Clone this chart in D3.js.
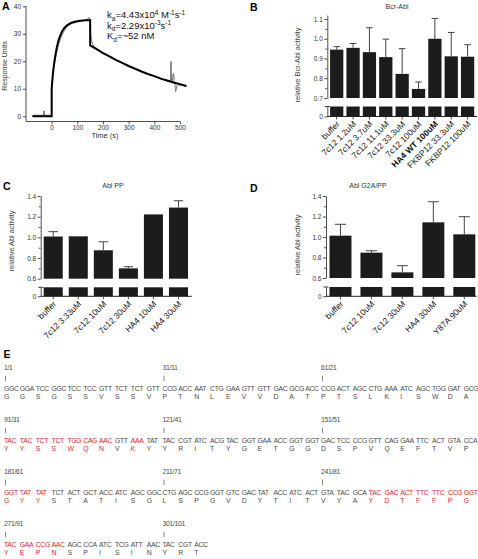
<!DOCTYPE html>
<html><head><meta charset="utf-8">
<script src="https://cdn.jsdelivr.net/npm/d3@7"></script>
<style>
body{margin:0;background:#fff}
svg{display:block}
text{font-family:"Liberation Sans",Arial,sans-serif}
</style>
</head><body>
<svg id="c" width="478" height="559"></svg>
<script>
// ---------- Panel A data (SPR sensorgram) ----------
const fitTime = [-75,-5,0,0,3,6,10,15,20,25,30,40,50,60,70,80,90,100,110,120,130,140,150,150,175,200,225,250,275,300,325,350,375,400,425,450,475,500,525];
const fitRU   = [0,0,0,10,13.5,16.5,19.5,22.5,25,27,28.5,30.8,32.2,33.1,33.7,34.1,34.4,34.6,34.75,34.85,34.9,34.95,35,25.8,24.4,23.0,21.8,20.5,19.4,18.3,17.3,16.3,15.4,14.6,13.7,13.0,12.3,11.7,11.0];
const dataTime = [-75,-40,-32,-30,-28,-5,0,0,5,10,20,30,40,50,60,80,100,120,140,145,148,150,152,155,160,165,170,180,200,250,300,350,400,450,460,463,465,467,470,473,475,478,480,483,486,488,490,493,496,500,510,525];
const dataRU   = [0.3,0.4,0.5,2,0.4,0.4,0,11,15,18.5,23.5,27,29.5,31.3,32.6,33.8,34.3,34.6,35.3,36,35.5,35,30,27.5,26.2,25.5,25,24.4,23.1,20.4,18.2,16.2,14.5,12.8,12.5,13,20,13,12.5,15.5,15.5,12.2,12.0,9,10,11.2,11.5,11.3,11.4,11.3,11.2,10.9];
const aXTicks = [0,100,200,300,400,500];
const aYTicks = [0,10,20,30,40];

// ---------- Panel B data ----------
const bCats = ["buffer","7c12 1.2uM","7c12 3.7uM","7c12 11.1uM","7c12 33.3uM","7c12 100uM","HA4 WT 100uM","FKBP12 33.3uM","FKBP12 100uM"];
const bVals = [0.945,0.954,0.932,0.907,0.822,0.746,1.0,0.911,0.909];
const bErrTop = [0.960,0.976,1.056,0.998,0.950,0.781,1.103,1.032,0.970];
const bTicks = [0.7,0.8,0.9,1.0,1.1];
const bMinor = [0.75,0.85,0.95,1.05];

// ---------- Panel C data ----------
const cCats = ["buffer","7c12 3.33uM","7c12 10uM","7c12 30uM","HA4 10uM","HA4 30uM"];
const cVals = [1.008,1.010,0.875,0.700,1.222,1.288];
const cErrTop = [1.055,null,0.957,0.716,null,1.354];
const cdTicks = [0.6,0.8,1.0,1.2,1.4];
const cdMinor = [0.7,0.9,1.1,1.3];

// ---------- Panel D data ----------
const dCats = ["buffer","7c12 10uM","7c12 30uM","HA4 30uM","Y87A 90uM"];
const dVals = [1.013,0.847,0.655,1.143,1.026];
const dErrTop = [1.124,0.866,0.720,1.344,1.198];

// ---------- Panel E data ----------
const codons = ("GGC GGA TCC GGC TCC TCC GTT TCT TCT GTT CCG ACC AAT CTG GAA GTT GTT GAC GCG ACC CCG ACT AGC CTG AAA ATC AGC TGG GAT GCG " +
 "TAC TAC TCT TCT TGG CAG AAC GTT AAA TAT TAC CGT ATC ACG TAC GGT GAA ACC GGT GGT GAC TCC CCG GTT CAG GAA TTC ACT GTA CCA " +
 "GGT TAT TAT TCT ACT GCT ACC ATC AGC GGC CTG AGC CCG GGT GTC GAC TAT ACC ATC ACT GTA TAC GCA TAC GAC ACT TTC TTC CCG GGT " +
 "TAC GAA CCG AAC AGC CCA ATC TCG ATT AAC TAC CGT ACC").split(" ");
const aminos = ("GGSGSSVSSVPTNLEVVDATPTSLKISWDA" + "YYSSWQNVKYYRITYGETGGDSPVQEFTVP" + "GYYSTATISGLSPGVDYTITVYAYDTFFPG" + "YEPNSPISINYRT").split("");
const redCodons = [30,31,32,33,34,35,36,38,60,61,62,83,84,85,86,87,88,89,90,91,92,93];
const markerLabels = ["1/1","31/11","61/21","91/31","121/41","151/51","181/61","211/71","241/81","271/91","301/101"];

const svg = d3.select("#c");
svg.append("rect").attr("width",478).attr("height",559).attr("fill","#fff");

function styleAxis(g, fs){
  g.selectAll("path,line").attr("stroke","#222").attr("stroke-width",0.8);
  g.selectAll("text").attr("font-size",fs).attr("fill","#333").attr("font-family","Liberation Sans, Arial, sans-serif");
}
function panelLetter(t,x,y){
  svg.append("text").text(t).attr("x",x).attr("y",y).attr("font-size",10.5).attr("font-weight","bold").attr("fill","#000");
}

// ================= Panel A =================
{
  const xA = d3.scaleLinear().domain([-100,500]).range([26,180]);
  const yA = d3.scaleLinear().domain([0,40]).range([116.3,6.3]);
  const axisY = 121.5;
  const gy = svg.append("g").attr("transform","translate(26,0)")
    .call(d3.axisLeft(yA).tickValues(aYTicks).tickSize(3).tickSizeOuter(0).tickPadding(2));
  gy.select(".domain").remove();
  styleAxis(gy,6.5);
  svg.append("line").attr("x1",26).attr("x2",26).attr("y1",yA(40)).attr("y2",axisY).attr("stroke","#222").attr("stroke-width",0.8);
  const gx = svg.append("g").attr("transform",`translate(0,${axisY})`)
    .call(d3.axisBottom(xA).tickValues(aXTicks).tickSize(2.5).tickSizeOuter(0).tickPadding(1));
  styleAxis(gx,6.5);
  gx.select(".domain").attr("d",`M${xA(-100)},0H${xA(500)}`);

  const line = d3.line().x(d=>xA(d[0])).y(d=>yA(d[1]));
  svg.append("path").datum(dataTime.map((t,i)=>[t,dataRU[i]]))
    .attr("d",line).attr("fill","none").attr("stroke","#555").attr("stroke-width",0.8);
  svg.append("path").datum(fitTime.map((t,i)=>[t,fitRU[i]]))
    .attr("d",line).attr("fill","none").attr("stroke","#000").attr("stroke-width",2);

  svg.append("text").text("Response Units").attr("transform","translate(7,66) rotate(-90)")
    .attr("text-anchor","middle").attr("font-size",7).attr("fill","#333");
  svg.append("text").text("Time (s)").attr("x",105).attr("y",137.5)
    .attr("text-anchor","middle").attr("font-size",7.5).attr("fill","#333");

  const ann = svg.append("g").attr("font-size",9.5).attr("fill","#111");
  const l1 = ann.append("text").attr("x",107).attr("y",18);
  l1.append("tspan").text("k");
  l1.append("tspan").text("a").attr("font-size",6.5).attr("dy",2.5);
  l1.append("tspan").text("=4.43x10").attr("dy",-2.5);
  l1.append("tspan").text("4").attr("font-size",6.5).attr("dy",-3.5);
  l1.append("tspan").text(" M").attr("dy",3.5);
  l1.append("tspan").text("-1").attr("font-size",6.5).attr("dy",-3.5);
  l1.append("tspan").text("s").attr("dy",3.5);
  l1.append("tspan").text("-1").attr("font-size",6.5).attr("dy",-3.5);
  const l2 = ann.append("text").attr("x",107).attr("y",28.5);
  l2.append("tspan").text("k");
  l2.append("tspan").text("d").attr("font-size",6.5).attr("dy",2.5);
  l2.append("tspan").text("=2.29x10").attr("dy",-2.5);
  l2.append("tspan").text("-3").attr("font-size",6.5).attr("dy",-3.5);
  l2.append("tspan").text("s").attr("dy",3.5);
  l2.append("tspan").text("-1").attr("font-size",6.5).attr("dy",-3.5);
  const l3 = ann.append("text").attr("x",107).attr("y",39);
  l3.append("tspan").text("K");
  l3.append("tspan").text("d").attr("font-size",6.5).attr("dy",2.5);
  l3.append("tspan").text("=~52 nM").attr("dy",-2.5);
}
panelLetter("A",2,10);

// ================= Bar panels =================
function barPanel(cfg){
  const x = d3.scaleBand().domain(cfg.cats).range([cfg.x0,cfg.x1]).paddingInner(cfg.pIn).paddingOuter(cfg.pOut);
  const y = d3.scaleLinear().domain(cfg.domain).range([cfg.yBreak,cfg.yTop]);
  const yL = d3.scaleLinear().domain([0,cfg.domain[0]]).range([cfg.yZero,cfg.yLowTop]);
  const g = svg.append("g");
  const bw = x.bandwidth();
  g.selectAll("rect.u").data(cfg.vals).join("rect")
    .attr("x",(d,i)=>x(cfg.cats[i])).attr("y",d=>y(d))
    .attr("width",bw).attr("height",d=>y(cfg.domain[0])-y(d)).attr("fill","#1c1c1c");
  g.selectAll("rect.l").data(cfg.vals).join("rect")
    .attr("x",(d,i)=>x(cfg.cats[i])).attr("y",yL(cfg.domain[0]))
    .attr("width",bw).attr("height",yL(0)-yL(cfg.domain[0])).attr("fill","#1c1c1c");
  cfg.errs.forEach((e,i)=>{
    if(e==null) return;
    const cx = x(cfg.cats[i])+bw/2;
    g.append("line").attr("x1",cx).attr("x2",cx).attr("y1",y(cfg.vals[i])).attr("y2",y(e)).attr("stroke","#444").attr("stroke-width",1);
    g.append("line").attr("x1",cx-bw*0.25).attr("x2",cx+bw*0.25).attr("y1",y(e)).attr("y2",y(e)).attr("stroke","#444").attr("stroke-width",1);
  });
  const ga = g.append("g").attr("transform",`translate(${cfg.x0},0)`)
    .call(d3.axisLeft(y).tickValues(cfg.ticks).tickSize(3).tickSizeOuter(0).tickPadding(1.5).tickFormat(d3.format(".1f")));
  styleAxis(ga,6.5);
  const gm = g.append("g").attr("transform",`translate(${cfg.x0},0)`)
    .call(d3.axisLeft(y).tickValues(cfg.minor).tickSize(2).tickFormat(""));
  gm.select(".domain").remove();
  styleAxis(gm,6.5);
  const gl = g.append("g").attr("transform",`translate(${cfg.x0},0)`)
    .call(d3.axisLeft(yL).tickValues([0]).tickSize(3).tickSizeOuter(0).tickPadding(1.5).tickFormat(d3.format("d")));
  styleAxis(gl,6.5);
  g.append("line").attr("x1",cfg.x0-2.5).attr("x2",cfg.x0+2.5).attr("y1",cfg.yLowTop).attr("y2",cfg.yLowTop).attr("stroke","#222").attr("stroke-width",0.9);
  const gx = g.append("g").attr("transform",`translate(0,${cfg.yZero})`)
    .call(d3.axisBottom(x).tickSize(3).tickSizeOuter(0));
  styleAxis(gx,8.5);
  gx.select(".domain").attr("d",`M${cfg.x0},0H${cfg.axEnd}`).attr("stroke-width",1);
  gx.selectAll("text").attr("y",0).attr("dy","0.35em")
    .attr("transform","translate(1.5,6) rotate(-45)").attr("text-anchor","end").attr("fill","#111")
    .attr("font-weight",d=>d===cfg.bold?"bold":"normal");
  svg.append("text").text(cfg.title).attr("x",cfg.titleX).attr("y",cfg.titleY)
    .attr("text-anchor","middle").attr("font-size",7).attr("fill","#333");
  svg.append("text").text(cfg.ylab).attr("transform",`translate(${cfg.ylabX},${cfg.ylabY}) rotate(-90)`)
    .attr("text-anchor","middle").attr("font-size",7.4).attr("fill","#444");
}

barPanel({cats:bCats, vals:bVals, errs:bErrTop, bold:"HA4 WT 100uM",
  x0:327.3, x1:477, axEnd:477, pIn:0.19, pOut:0.17,
  domain:[0.7,1.12], ticks:bTicks, minor:bMinor, yBreak:98, yTop:98-(0.42/0.4)*79,
  yZero:116.5, yLowTop:106.5,
  title:"Bcr-Abl", titleX:397, titleY:9, ylab:"relative Bcr-Abl activity", ylabX:300, ylabY:65});
panelLetter("B",250,11);

barPanel({cats:cCats, vals:cVals, errs:cErrTop, bold:null,
  x0:40.7, x1:191, axEnd:191.7, pIn:0.24, pOut:0.12,
  domain:[0.6,1.4], ticks:cdTicks, minor:cdMinor, yBreak:278.7, yTop:196,
  yZero:296.3, yLowTop:287.3,
  title:"Abl PP", titleX:113, titleY:187.5, ylab:"relative Abl activity", ylabX:14, ylabY:241});
panelLetter("C",3,189.5);

barPanel({cats:dCats, vals:dVals, errs:dErrTop, bold:null,
  x0:326, x1:478.8, axEnd:476.7, pIn:0.29, pOut:0.113,
  domain:[0.6,1.4], ticks:cdTicks, minor:cdMinor, yBreak:278, yTop:196,
  yZero:296.3, yLowTop:287,
  title:"Abl G2A/PP", titleX:368, titleY:187.5, ylab:"relative Abl activity", ylabX:300, ylabY:245});
panelLetter("D",250,192);

// ================= Panel E =================
panelLetter("E",3.5,358.3);
{
  const perRow = 30;
  const xc = d3.scaleLinear().domain([0,perRow]).range([4,4+perRow*15.85]);
  const rowY = d3.scaleLinear().domain([0,1]).range([390.7,442.7]);
  const redSet = new Set(redCodons);
  const gE = svg.append("g").attr("font-size",6.9).attr("letter-spacing",-0.35);
  codons.forEach((cd,i)=>{
    const r = Math.floor(i/perRow), k = i%perRow;
    const red = redSet.has(i);
    const col = red ? "#cc2e1e" : "#4a4a4a";
    gE.append("text").text(cd).attr("x",xc(k)).attr("y",rowY(r)).attr("fill",col).attr("font-family","Liberation Mono, monospace");
    gE.append("text").text(aminos[i]).attr("x",xc(k)).attr("y",rowY(r)+8.6).attr("fill",col).attr("font-family","Liberation Mono, monospace");
    if(k%10===0){
      const m = markerLabels[i/10];
      gE.append("text").text(m).attr("x",xc(k)).attr("y",rowY(r)-20.7).attr("fill","#4a4a4a").attr("font-family","Liberation Mono, monospace");
      gE.append("line").attr("x1",xc(k)+1.5).attr("x2",xc(k)+1.5).attr("y1",rowY(r)-15).attr("y2",rowY(r)-9.5).attr("stroke","#555").attr("stroke-width",0.7);
    }
  });
}
</script>
</body></html>
